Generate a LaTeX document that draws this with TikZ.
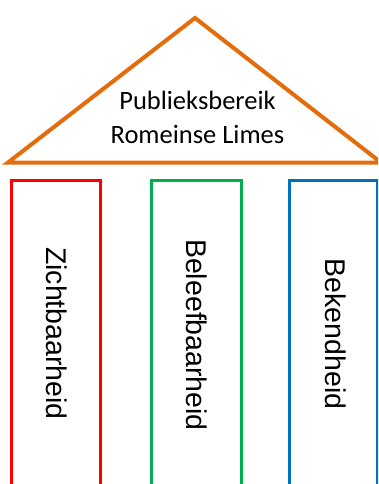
\documentclass[tikz,border=0pt]{standalone}
\usepackage{fontspec}
\setmainfont{Carlito}
\newfontfamily\pillarfont{Liberation Sans}
\definecolor{roofcol}{HTML}{E46C0A}
\definecolor{pillarred}{HTML}{FF0000}
\definecolor{pillargreen}{HTML}{00B050}
\definecolor{pillarblue}{HTML}{0070C0}
\begin{document}
\begin{tikzpicture}[x=1pt,y=-1pt,
  roof/.style={draw=roofcol,line width=4pt,line join=miter},
  pillar/.style={line width=3pt},
  rooftext/.style={font=\fontsize{26.5}{33}\selectfont,align=center,inner sep=0pt},
  pillartext/.style={font=\pillarfont\fontsize{28.5}{34}\selectfont,rotate=-90,anchor=base,inner sep=0pt}]
  \useasboundingbox (0,0) rectangle (378,484);
  \clip (0,0) rectangle (378,484);
  % roof
  \coordinate (apex) at (195,18);
  \coordinate (eaveL) at (8,162.5);
  \coordinate (eaveR) at (381,162.5);
  \draw[roof] (eaveL) -- (apex) -- (eaveR) -- cycle;
  \node[rooftext,anchor=base] (roofA) at (197.5,110) {Publieksbereik};
  \node[rooftext,anchor=base] (roofB) at (197.5,143) {Romeinse Limes};
  % pillars
  \draw[pillar,draw=pillarred] (11.5,492) -- (11.5,180.5) -- (100.5,180.5) -- (100.5,492);
  \draw[pillar,draw=pillargreen] (151,492) -- (151,180.5) -- (241,180.5) -- (241,492);
  \draw[pillar,draw=pillarblue] (289,492) -- (289,180.5) -- (377,180.5) -- (377,492);
  \node[pillartext] (p1) at (46,333.5) {Zichtbaarheid};
  \node[pillartext] (p2) at (186,335) {Beleefbaarheid};
  \node[pillartext] (p3) at (325,334) {Bekendheid};
\end{tikzpicture}
\end{document}
